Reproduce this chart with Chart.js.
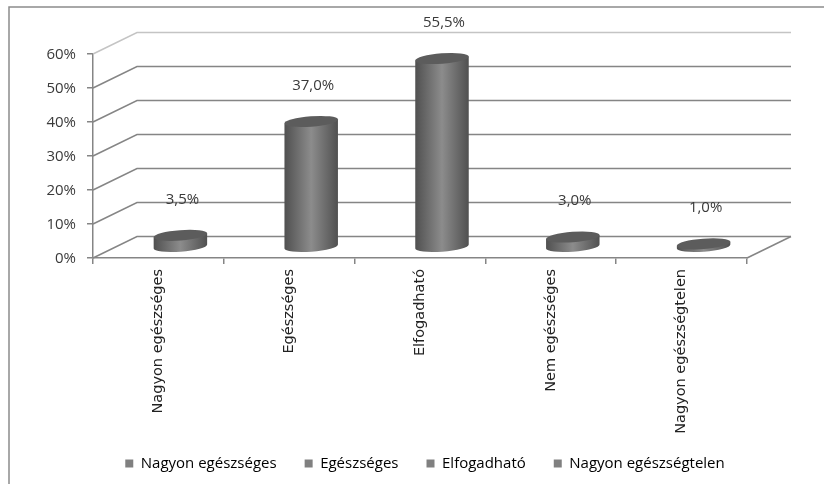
<!DOCTYPE html>
<html>
<head>
<meta charset="utf-8">
<script src="https://cdn.jsdelivr.net/npm/chart.js@4"></script>
<style>
html, body { margin: 0; padding: 0; background: #fff; }
#wrap { width: 824px; height: 484px; }
</style>
</head>
<body>
<div id="wrap"><canvas id="chart" width="824" height="484"></canvas></div>
<script>
const categories = ['Nagyon egészséges', 'Egészséges', 'Elfogadható', 'Nem egészséges', 'Nagyon egészségtelen'];
const values = [3.5, 37.0, 55.5, 3.0, 1.0];
const legendLabels = ['Nagyon egészséges', 'Egészséges', 'Elfogadható', 'Nagyon egészségtelen'];

const fontName = '"Open Sans", sans-serif';
const lineColor = '#858585';
// offset of the back wall from the front plane
const wallX = 44;
const wallY = -21.5;

// back wall, side wall and floor, taken from the y scale
const wallPlugin = {
    id: 'wall',
    beforeDatasetsDraw(chart) {
        let c = chart.ctx;
        let y = chart.scales.y;
        let area = chart.chartArea;
        c.save();
        c.lineWidth = 1.5;
        y.ticks.forEach(function (t) {
            let py = y.getPixelForValue(t.value);
            c.strokeStyle = t.value === y.max ? '#c4c4c4' : lineColor;
            c.beginPath();
            c.moveTo(area.left, py);
            c.lineTo(area.left + wallX, py + wallY);
            c.lineTo(area.right + wallX, py + wallY);
            c.stroke();
        });
        c.strokeStyle = lineColor;
        c.beginPath();
        c.moveTo(area.right, area.bottom);
        c.lineTo(area.right + wallX, area.bottom + wallY);
        c.stroke();
        c.restore();
    }
};

// cylinders and value labels, drawn over the bar elements
const cylinderPlugin = {
    id: 'cylinder',
    afterDatasetsDraw(chart) {
        let c = chart.ctx;
        let rot = -4.3 * Math.PI / 180;
        chart.getDatasetMeta(0).data.forEach(function (bar, i) {
            let cx = bar.x + wallX / 2;
            let top = bar.y + wallY / 2;
            let base = bar.base + wallY / 2;
            let rx = bar.width / 2;
            let ry = 5.2;
            let dx = rx * Math.cos(rot);
            let dy = rx * Math.sin(rot);

            let g = c.createLinearGradient(cx - rx, 0, cx + rx, 0);
            g.addColorStop(0, '#505050');
            g.addColorStop(0.5, '#8c8c8c');
            g.addColorStop(1, '#505050');

            c.save();
            c.fillStyle = g;
            c.beginPath();
            c.ellipse(cx, base, rx, ry, rot, 0, Math.PI);
            c.lineTo(cx - dx, top - dy);
            c.lineTo(cx + dx, top + dy);
            c.closePath();
            c.fill();
            c.fillStyle = '#5c5c5c';
            c.beginPath();
            c.ellipse(cx, top, rx, ry, rot, 0, Math.PI * 2);
            c.fill();

            c.fillStyle = '#3a3a3a';
            c.font = '15px ' + fontName;
            c.textAlign = 'center';
            c.textBaseline = 'middle';
            c.fillText(values[i].toFixed(1).replace('.', ',') + '%', cx + 2, top - 36);
            c.restore();
        });
    }
};

// outer chart frame, and the legend placed where the original has it
const framePlugin = {
    id: 'frame',
    afterLayout(chart) {
        chart.legend.left = 26;
        chart.legend.right = 824;
        chart.legend.top = 463 - 28 - 7;
        chart.legend.bottom = chart.legend.top + chart.legend.height;
        // long x labels run past the fitted box, do not clip them
        chart.scales.x.bottom = 445;
    },
    beforeDraw(chart) {
        let c = chart.ctx;
        c.save();
        c.fillStyle = '#fff';
        c.fillRect(0, 0, 824, 484);
        c.strokeStyle = '#8c8c8c';
        c.lineWidth = 1.5;
        c.beginPath();
        c.moveTo(9, 484);
        c.lineTo(9, 7);
        c.lineTo(824, 7);
        c.stroke();
        c.restore();
    }
};

new Chart(document.getElementById('chart').getContext('2d'), {
    type: 'bar',
    data: {
        labels: categories,
        datasets: [{
            data: values,
            backgroundColor: 'rgba(0,0,0,0)',
            barPercentage: 0.41,
            categoryPercentage: 1
        }]
    },
    plugins: [framePlugin, wallPlugin, cylinderPlugin],
    options: {
        responsive: false,
        animation: false,
        layout: { padding: { top: 54, right: 77, bottom: 0, left: 0 } },
        plugins: {
            tooltip: { enabled: false },
            legend: {
                position: 'bottom',
                onClick: null,
                labels: {
                    boxWidth: 8,
                    boxHeight: 8,
                    padding: 28,
                    color: '#4a4a4a',
                    font: { family: fontName, size: 15 },
                    generateLabels() {
                        return legendLabels.map(function (name) {
                            return { text: name, fillStyle: '#808080', strokeStyle: '#808080', lineWidth: 0 };
                        });
                    }
                }
            }
        },
        scales: {
            x: {
                afterFit(scale) { scale.height = 173; },
                grid: { drawOnChartArea: false, tickLength: 6, color: lineColor, lineWidth: 1.5 },
                border: { color: lineColor, width: 1.5 },
                ticks: {
                    autoSkip: false,
                    minRotation: 90,
                    maxRotation: 90,
                    padding: 5,
                    color: '#222',
                    font: { family: 'DejaVu Sans, sans-serif', size: 14.5 }
                }
            },
            y: {
                min: 0,
                max: 60,
                afterFit(scale) { scale.width = 93; },
                grid: { drawOnChartArea: false, tickLength: 6, color: lineColor, lineWidth: 1.5 },
                border: { color: lineColor, width: 1.5 },
                ticks: {
                    stepSize: 10,
                    padding: 11,
                    labelOffset: 1,
                    color: '#3a3a3a',
                    font: { family: fontName, size: 15 },
                    callback(v) { return v + '%'; }
                }
            }
        }
    }
});
</script>
</body>
</html>
